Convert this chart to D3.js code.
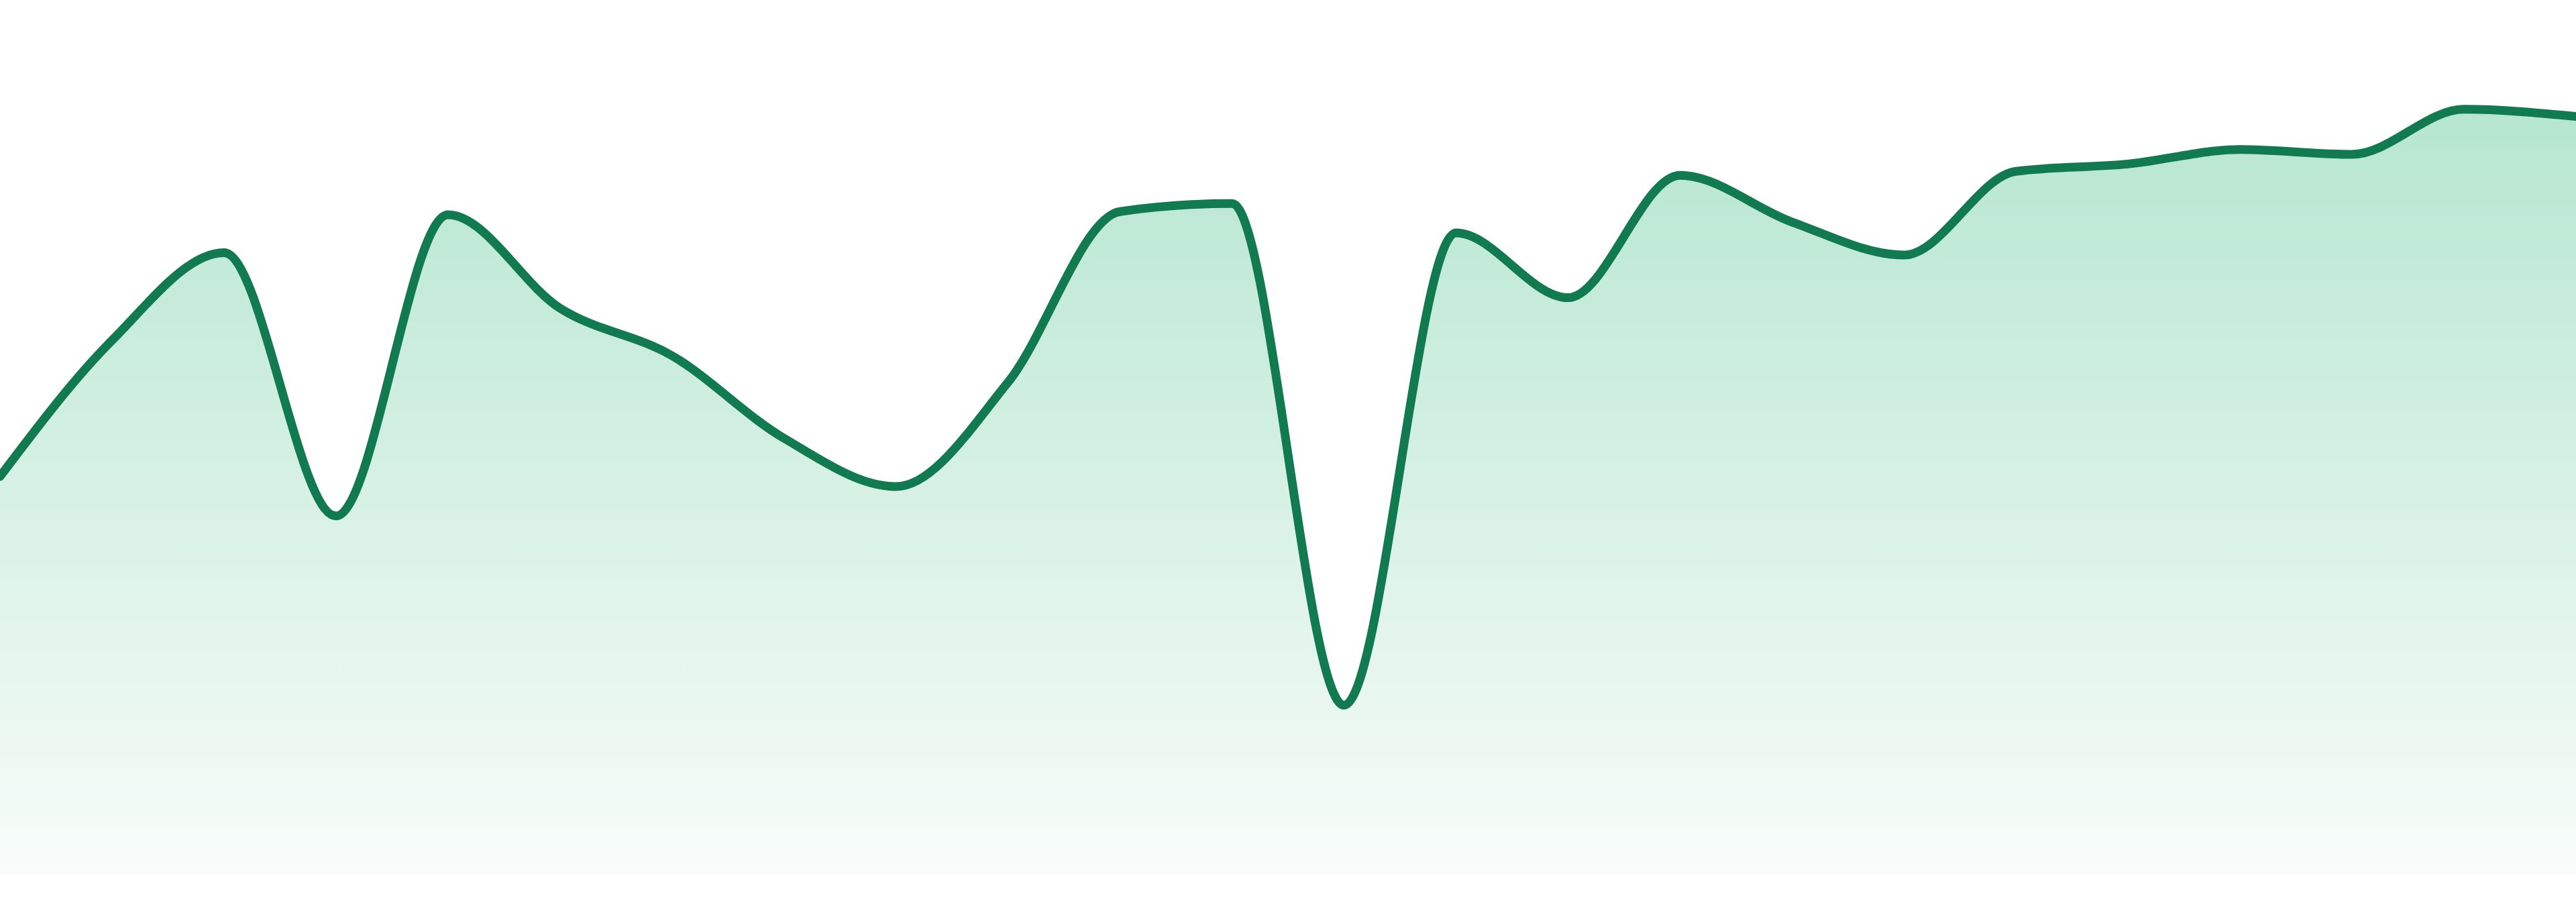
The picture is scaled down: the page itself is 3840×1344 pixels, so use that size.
<!DOCTYPE html>
<html>
<head>
<meta charset="utf-8">
<title>Sparkline area</title>
<script src="https://cdn.jsdelivr.net/npm/d3@7"></script>
<style>
  html, body { margin: 0; padding: 0; background: #fff; overflow: hidden; }
  svg { display: block; }
</style>
</head>
<body>
<svg id="chart"></svg>
<script>
// ── Data ──────────────────────────────────────────────
const steps  = d3.range(24);           // one point per step, no labels shown
const values = [
  49.5, 66.4, 77.3, 44.6, 82.0, 70.4, 64.5, 54.25,
  48.25, 61.2, 82.4, 83.4, 21.1, 79.75, 71.7, 86.9,
  81.1, 77.0, 87.4, 88.3, 90.1, 89.5, 95.1, 94.2
];
const yDomain = [0, 100];

// ── Layout ────────────────────────────────────────────
const W = 3840, H = 1344;
const margin = { top: 104, right: 0, bottom: 40, left: 0 };

const svg = d3.select('#chart')
  .attr('width', W)
  .attr('height', H);

const data = steps.map((s, i) => ({ step: s, value: values[i] }));

const x = d3.scaleLinear()
  .domain(d3.extent(steps))
  .range([margin.left, W - margin.right]);

const y = d3.scaleLinear()
  .domain(yDomain)
  .range([H - margin.bottom, margin.top]);

// ── Gradient fill ─────────────────────────────────────
const topY = y(d3.max(values));
const grad = svg.append('defs').append('linearGradient')
  .attr('id', 'area-fill')
  .attr('gradientUnits', 'userSpaceOnUse')
  .attr('x1', 0).attr('x2', 0)
  .attr('y1', topY).attr('y2', y(0));
grad.append('stop').attr('offset', '0%').attr('stop-color', '#b6e6d0');
grad.append('stop').attr('offset', '100%').attr('stop-color', '#f8fcfa');

const area = d3.area()
  .x(d => x(d.step))
  .y0(y(0))
  .y1(d => y(d.value))
  .curve(d3.curveMonotoneX);

const line = d3.line()
  .x(d => x(d.step))
  .y(d => y(d.value))
  .curve(d3.curveMonotoneX);

svg.append('path')
  .datum(data)
  .attr('d', area)
  .attr('fill', 'url(#area-fill)');

svg.append('path')
  .datum(data)
  .attr('d', line)
  .attr('fill', 'none')
  .attr('stroke', '#117a50')
  .attr('stroke-width', 13)
  .attr('stroke-linejoin', 'round')
  .attr('stroke-linecap', 'round');
</script>
</body>
</html>
